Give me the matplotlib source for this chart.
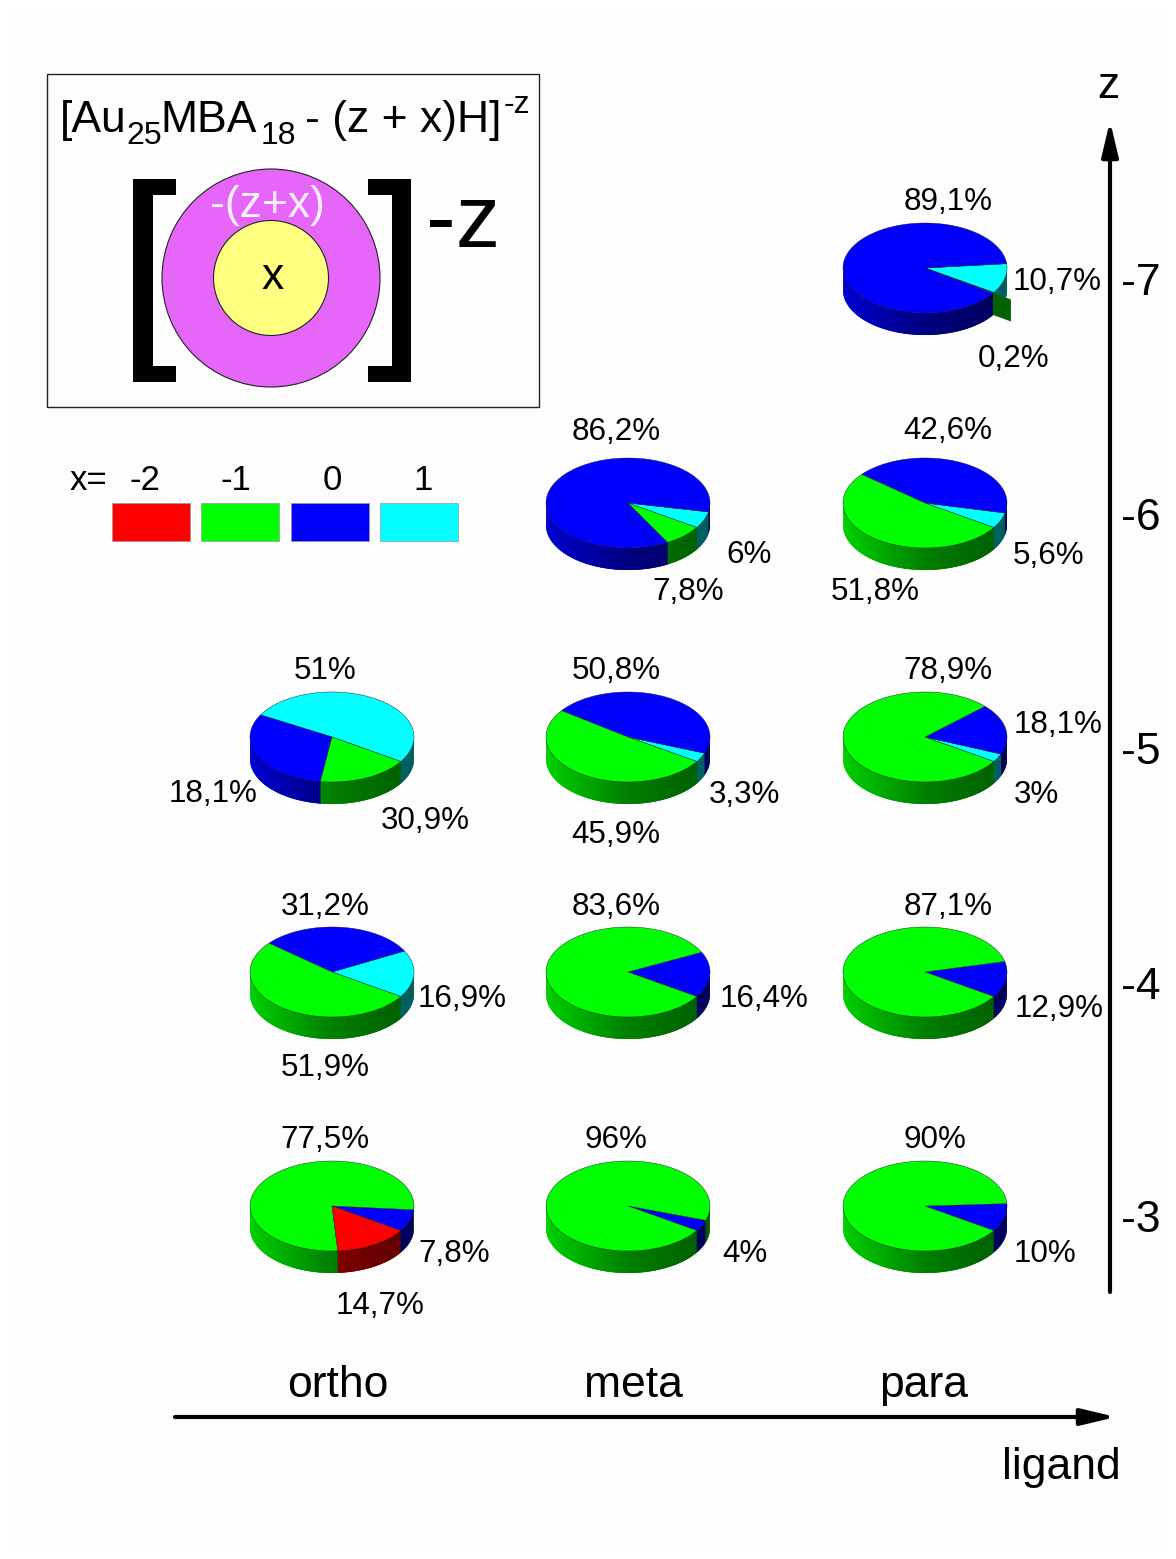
import numpy as np
import matplotlib
matplotlib.use('Agg')
import matplotlib.pyplot as plt
from matplotlib.patches import Circle, Polygon, Rectangle
from matplotlib.collections import PolyCollection

plt.rcParams['font.family'] = ['Liberation Sans', 'DejaVu Sans']

# Data: one entry per pie, slices listed counter-clockwise
ligands = ['ortho', 'meta', 'para']
z_values = [-7, -6, -5, -4, -3]
x_levels = [-2, -1, 0, 1]

pie_ligand = ['para', 'meta', 'para', 'ortho', 'meta', 'para', 'ortho', 'meta', 'para', 'ortho', 'meta', 'para']
pie_z = [-7, -6, -6, -5, -5, -5, -4, -4, -4, -3, -3, -3]
pie_x = [[1, 0, -1], [1, 0, -1], [1, 0, -1], [1, 0, -1], [1, 0, -1], [1, 0, -1],
         [1, 0, -1], [0, -1], [0, -1], [0, -1, -2], [0, -1], [0, -1]]
pie_share = [[10.7, 89.1, 0.2], [6, 86.2, 7.8], [5.6, 42.6, 51.8], [51, 30.9, 18.1],
             [3.3, 45.9, 50.8], [3, 18.1, 78.9], [16.9, 31.2, 51.9], [16.4, 83.6],
             [12.9, 87.1], [7.8, 77.5, 14.7], [4, 96], [10, 90]]

pct_text = ['89,1%', '10,7%', '0,2%', '86,2%', '6%', '7,8%', '42,6%', '5,6%', '51,8%',
            '51%', '18,1%', '30,9%', '50,8%', '3,3%', '45,9%', '78,9%', '18,1%', '3%',
            '31,2%', '16,9%', '51,9%', '83,6%', '16,4%', '87,1%', '12,9%',
            '77,5%', '7,8%', '14,7%', '96%', '4%', '90%', '10%']

# Layout, in pixels of the picture
pct_xy = [(948, 199), (1057, 279), (1014, 356), (616, 429), (749, 552), (688, 589),
          (948, 428), (1049, 553), (875, 589), (325, 668), (213, 791), (425, 818),
          (616, 668), (744, 792), (616, 832), (948, 668), (1058, 722), (1036, 792),
          (325, 904), (462, 996), (325, 1065), (616, 904), (764, 996), (948, 904),
          (1059, 1006), (325, 1137), (454, 1251), (380, 1304), (616, 1137), (745, 1252),
          (935, 1137), (1045, 1252)]
col_x = {'ortho': 332, 'meta': 628, 'para': 925}
row_y = {-7: 268, -6: 503, -5: 737, -4: 972, -3: 1206}
RX, RY, DEPTH = 82, 45, 22
START = -33

level_color = {-2: (1, 0, 0), -1: (0, 1, 0), 0: (0, 0, 1), 1: (0, 1, 1)}

fig = plt.figure(figsize=(11.76, 15.59), dpi=100, facecolor='white')
ax = fig.add_axes([0, 0, 1, 1])
ax.set_xlim(0, 1176)
ax.set_ylim(1559, 0)
ax.axis('off')
ax.add_patch(Rectangle((8, 8), 1160, 1543, fc='#fdfdfd', ec='none', zorder=0))


def rim(cx, cy, deg, r=1.0):
    a = np.radians(deg)
    return np.column_stack([cx + r * RX * np.cos(a), cy - r * RY * np.sin(a)])


def shade(u):
    # the side of the pie gets darker from left to right
    return np.interp(u, [-1, 0, 1], [0.82, 0.5, 0.36])


def draw_pie(cx, cy, shares, xs):
    edges = START + np.cumsum([0] + shares) * 3.6

    # side wall, as thin strips that overlap so no seams show
    strips, colors = [], []
    for t in np.arange(180, 360, 1.0):
        mid = t + 0.5
        m = mid if mid < edges[-1] else mid - 360
        i = int(np.searchsorted(edges, m) - 1)
        i = min(max(i, 0), len(xs) - 1)
        p = rim(cx, cy, np.array([t, min(t + 2.5, 360)]))
        strips.append([p[0], p[1], p[1] + [0, DEPTH], p[0] + [0, DEPTH]])
        colors.append(np.array(level_color[xs[i]]) * shade(np.cos(np.radians(mid))))
    ax.add_collection(PolyCollection(strips, facecolors=colors, edgecolors='none', zorder=2))

    # top face
    for i, x in enumerate(xs):
        arc = rim(cx, cy, np.linspace(edges[i], edges[i + 1], 90))
        pts = np.vstack([[cx, cy], arc])
        ax.add_patch(Polygon(pts, closed=True, fc=level_color[x], ec='#101020', lw=0.3, zorder=3))

    # very small slice: pulled out, only its cut face shows
    for i, s in enumerate(shares):
        if s < 0.5:
            p0 = rim(cx, cy, np.array([edges[i]]))[0]
            p1 = rim(cx, cy, np.array([edges[i]]), 1.26)[0]
            ax.add_patch(Polygon([p0, p1, p1 + [0, DEPTH], p0 + [0, DEPTH]], closed=True,
                                 fc=(0, 0.39, 0), ec='none', zorder=3))


for lig, z, xs, shares in zip(pie_ligand, pie_z, pie_x, pie_share):
    draw_pie(col_x[lig], row_y[z], shares, xs)

for s, (x, y) in zip(pct_text, pct_xy):
    ax.text(x, y + 2.5, s, fontsize=22.6, ha='center', va='center', color='black', zorder=5)

# Box with the formula and scheme
ax.add_patch(Rectangle((47, 74), 492, 333, fc='none', ec='#222222', lw=1.0, zorder=2))
ax.text(60, 132, '[Au', fontsize=32, va='baseline')
ax.text(126, 144, '25', fontsize=23, va='baseline')
ax.text(160, 132, 'MBA', fontsize=32, va='baseline')
ax.text(261, 144, '18', fontsize=23, va='baseline')
ax.text(305, 132, '- (z + x)H]', fontsize=32, va='baseline')
ax.text(504, 113, '-z', fontsize=23, va='baseline')

ax.add_patch(Circle((271, 278), 109, fc='#e666fa', ec='#222222', lw=0.8, zorder=2))
ax.add_patch(Circle((271, 278), 57.5, fc='#ffff80', ec='#222222', lw=0.8, zorder=3))
ax.text(267, 217, '-(z+x)', fontsize=32, color='#f8f0ff', ha='center', va='baseline', zorder=4)
ax.text(273, 289, 'x', fontsize=32, ha='center', va='baseline', zorder=4)
ax.text(426, 247, '-z', fontsize=64, va='baseline')

ax.add_patch(Polygon([(176, 179), (133, 179), (133, 382), (176, 382), (176, 366), (153, 366),
                      (153, 195), (176, 195)], closed=True, fc='black', ec='none', zorder=4))
ax.add_patch(Polygon([(368, 179), (411, 179), (411, 382), (368, 382), (368, 366), (392, 366),
                      (392, 195), (368, 195)], closed=True, fc='black', ec='none', zorder=4))

# Colour key
ax.text(70, 490, 'x=', fontsize=25, va='baseline')
key_x = [112, 201, 291, 380]
key_lx = [145, 236, 332, 423]
for lvl, kx, lx in zip(x_levels, key_x, key_lx):
    ax.add_patch(Rectangle((kx, 503), 78, 38, fc=level_color[lvl], ec='#999999', lw=0.5, zorder=2))
    ax.text(lx, 490, str(lvl), fontsize=25, ha='center', va='baseline')

# Axes arrows
head = '-|>,head_length=21,head_width=5'
ax.annotate('', xy=(1110, 121), xytext=(1110, 1292),
            arrowprops=dict(arrowstyle=head, mutation_scale=1, color='black', lw=3, shrinkA=0, shrinkB=0))
ax.annotate('', xy=(1116, 1417), xytext=(175, 1417),
            arrowprops=dict(arrowstyle=head, mutation_scale=1, color='black', lw=3, shrinkA=0, shrinkB=0))

ax.text(1108, 98, 'z', fontsize=32, ha='center', va='baseline')
ax.text(1002, 1479, 'ligand', fontsize=32, va='baseline')
for lig, lx in zip(ligands, [338, 633, 924]):
    ax.text(lx, 1397, lig, fontsize=32, ha='center', va='baseline')
for z in z_values:
    ax.text(1141, row_y[z] + 15, str(z), fontsize=32, ha='center', va='center')

fig.savefig('out.png', dpi=100, facecolor='white')
